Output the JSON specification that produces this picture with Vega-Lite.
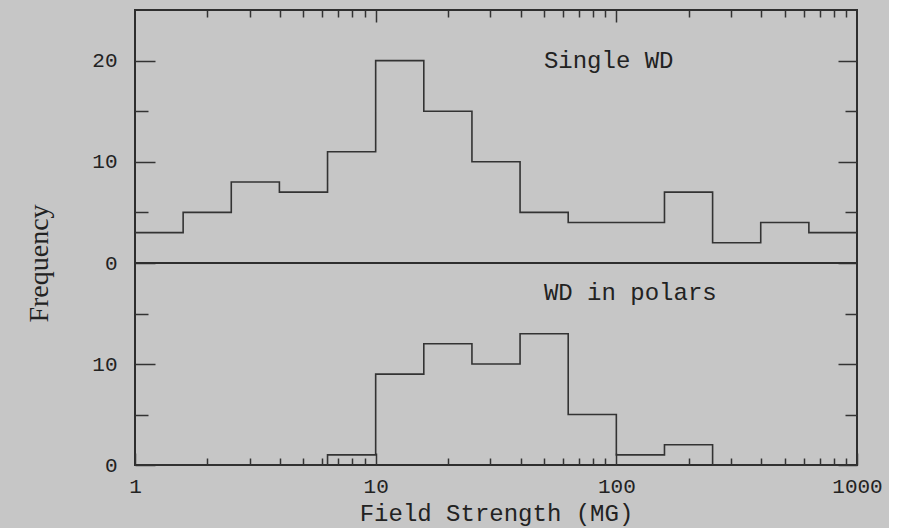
{
  "$schema": "https://vega.github.io/schema/vega-lite/v6.json",
  "background": "#c6c6c6",
  "padding": {"left": 24, "top": 8, "right": 5, "bottom": 2},
  "bounds": "flush",
  "spacing": 0,
  "datasets": {
    "single": [
      {"B": 1, "N": 3}, {"B": 1.585, "N": 5}, {"B": 2.512, "N": 8}, {"B": 3.981, "N": 7},
      {"B": 6.31, "N": 11}, {"B": 10, "N": 20}, {"B": 15.85, "N": 15}, {"B": 25.12, "N": 10},
      {"B": 39.81, "N": 5}, {"B": 63.1, "N": 4}, {"B": 100, "N": 4}, {"B": 158.5, "N": 7},
      {"B": 251.2, "N": 2}, {"B": 398.1, "N": 4}, {"B": 631, "N": 3}, {"B": 1000, "N": 3}
    ],
    "polars": [
      {"B": 1, "N": 0}, {"B": 1.585, "N": 0}, {"B": 2.512, "N": 0}, {"B": 3.981, "N": 0},
      {"B": 6.31, "N": 1}, {"B": 10, "N": 9}, {"B": 15.85, "N": 12}, {"B": 25.12, "N": 10},
      {"B": 39.81, "N": 13}, {"B": 63.1, "N": 5}, {"B": 100, "N": 1}, {"B": 158.5, "N": 2},
      {"B": 251.2, "N": 0}, {"B": 398.1, "N": 0}, {"B": 631, "N": 0}, {"B": 1000, "N": 0}
    ],
    "label_single": [{"label": "Single WD", "B": 50, "N": 20}],
    "label_polars": [{"label": "WD in polars", "B": 50, "N": 17}]
  },
  "vconcat": [
    {
      "width": 722,
      "height": 253,
      "layer": [
        {
          "data": {"name": "single"},
          "mark": {"type": "line", "interpolate": "step-after"},
          "encoding": {
            "x": {
              "field": "B", "type": "quantitative",
              "scale": {"type": "log", "domain": [1, 1000]},
              "axis": {
                "orient": "top", "title": null, "labels": false,
                "values": [2, 3, 4, 5, 6, 7, 8, 9, 10, 20, 30, 40, 50, 60, 70, 80, 90, 100, 200, 300, 400, 500, 600, 700, 800, 900],
                "tickSize": {"condition": {"test": "datum.value === 10 || datum.value === 100", "value": -12}, "value": -7}
              }
            },
            "y": {
              "field": "N", "type": "quantitative",
              "scale": {"domain": [0, 25], "nice": false},
              "axis": {
                "orient": "left",
                "values": [0, 5, 10, 15, 20],
                "labelExpr": "datum.value % 10 === 0 ? datum.label : ''",
                "tickSize": {"condition": {"test": "datum.value % 10 === 0", "value": -20}, "value": -13},
                "labelPadding": 38,
                "title": "Frequency",
                "titleFont": "Liberation Serif",
                "titleFontSize": 28,
                "titleFontWeight": "normal",
                "titleColor": "#222",
                "titleAngle": -90,
                "titleAlign": "center",
                "titleBaseline": "middle",
                "titleX": -96,
                "titleY": 253
              }
            }
          }
        },
        {
          "data": {"name": "label_single"},
          "mark": {"type": "text", "align": "left", "baseline": "middle", "font": "Liberation Mono", "fontSize": 24, "color": "#222"},
          "encoding": {
            "x": {
              "field": "B", "type": "quantitative",
              "scale": {"type": "log", "domain": [1, 1000]},
              "axis": {
                "orient": "top", "title": null, "labels": false,
                "values": [2, 3, 4, 5, 6, 7, 8, 9, 10, 20, 30, 40, 50, 60, 70, 80, 90, 100, 200, 300, 400, 500, 600, 700, 800, 900],
                "tickSize": {"condition": {"test": "datum.value === 10 || datum.value === 100", "value": -12}, "value": -7}
              }
            },
            "y": {
              "field": "N", "type": "quantitative",
              "scale": {"domain": [0, 25], "nice": false},
              "axis": {
                "orient": "right", "title": null, "labels": false,
                "values": [0, 5, 10, 15, 20],
                "tickSize": {"condition": {"test": "datum.value % 10 === 0", "value": -19}, "value": -12}
              }
            },
            "text": {"field": "label"}
          }
        }
      ],
      "resolve": {"axis": {"y": "independent"}}
    },
    {
      "width": 722,
      "height": 202,
      "layer": [
        {
          "data": {"name": "polars"},
          "mark": {"type": "line", "interpolate": "step-after"},
          "encoding": {
            "x": {
              "field": "B", "type": "quantitative",
              "scale": {"type": "log", "domain": [1, 1000]},
              "axis": {
                "orient": "bottom",
                "format": "d",
                "values": [1, 2, 3, 4, 5, 6, 7, 8, 9, 10, 20, 30, 40, 50, 60, 70, 80, 90, 100, 200, 300, 400, 500, 600, 700, 800, 900, 1000],
                "labelExpr": "(datum.value === 1 || datum.value === 10 || datum.value === 100 || datum.value === 1000) ? datum.label : ''",
                "tickSize": {"condition": {"test": "datum.value === 1 || datum.value === 10 || datum.value === 100 || datum.value === 1000", "value": -12}, "value": -7},
                "labelPadding": 22,
                "labelFlush": false,
                "title": "Field Strength (MG)",
                "titleFont": "Liberation Mono",
                "titleFontSize": 24,
                "titleFontWeight": "normal",
                "titleColor": "#222",
                "titlePadding": 5
              }
            },
            "y": {
              "field": "N", "type": "quantitative",
              "scale": {"domain": [0, 20], "nice": false},
              "axis": {
                "orient": "left",
                "values": [0, 5, 10, 15],
                "labelExpr": "datum.value % 10 === 0 ? datum.label : ''",
                "tickSize": {"condition": {"test": "datum.value % 10 === 0", "value": -20}, "value": -13},
                "labelPadding": 38,
                "title": null
              }
            }
          }
        },
        {
          "data": {"name": "label_polars"},
          "mark": {"type": "text", "align": "left", "baseline": "middle", "font": "Liberation Mono", "fontSize": 24, "color": "#222"},
          "encoding": {
            "x": {
              "field": "B", "type": "quantitative",
              "scale": {"type": "log", "domain": [1, 1000]},
              "axis": {
                "orient": "bottom",
                "format": "d",
                "values": [1, 2, 3, 4, 5, 6, 7, 8, 9, 10, 20, 30, 40, 50, 60, 70, 80, 90, 100, 200, 300, 400, 500, 600, 700, 800, 900, 1000],
                "labelExpr": "(datum.value === 1 || datum.value === 10 || datum.value === 100 || datum.value === 1000) ? datum.label : ''",
                "tickSize": {"condition": {"test": "datum.value === 1 || datum.value === 10 || datum.value === 100 || datum.value === 1000", "value": -12}, "value": -7},
                "labelPadding": 22,
                "labelFlush": false,
                "title": "Field Strength (MG)",
                "titleFont": "Liberation Mono",
                "titleFontSize": 24,
                "titleFontWeight": "normal",
                "titleColor": "#222",
                "titlePadding": 5
              }
            },
            "y": {
              "field": "N", "type": "quantitative",
              "scale": {"domain": [0, 20], "nice": false},
              "axis": {
                "orient": "right", "title": null, "labels": false,
                "values": [0, 5, 10, 15],
                "tickSize": {"condition": {"test": "datum.value % 10 === 0", "value": -19}, "value": -12}
              }
            },
            "text": {"field": "label"}
          }
        }
      ],
      "resolve": {"axis": {"y": "independent"}}
    }
  ],
  "config": {
    "view": {"stroke": "#2e2e2e", "strokeWidth": 2},
    "axis": {
      "domain": false,
      "grid": false,
      "tickColor": "#333",
      "tickWidth": 1.5,
      "labelColor": "#222",
      "labelFont": "Liberation Mono",
      "labelFontSize": 21,
      "labelFontWeight": "normal"
    },
    "line": {"color": "#333333", "strokeWidth": 1.6}
  }
}
